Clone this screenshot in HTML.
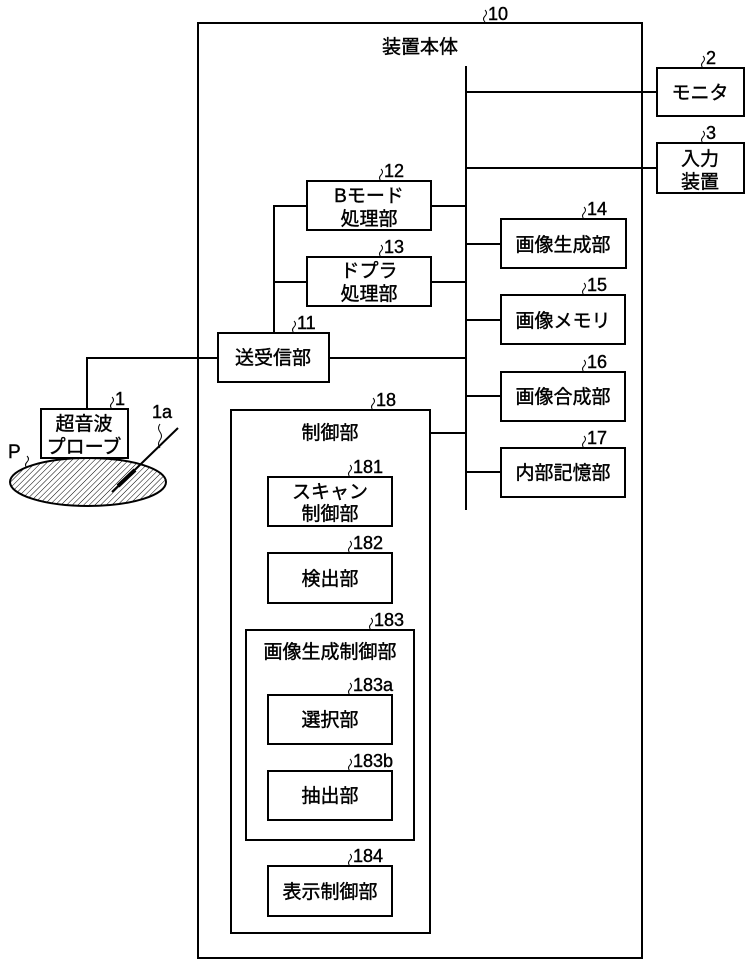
<!DOCTYPE html>
<html><head><meta charset="utf-8">
<style>
html,body{margin:0;padding:0;background:#fff;}
svg{display:block;}
text{font-family:"Liberation Sans","Noto Sans CJK JP",sans-serif;fill:#000;stroke:#000;stroke-width:0.4;}
.b{font-size:19px;text-anchor:middle;}
.n{font-size:18px;}
</style></head><body>
<svg width="753" height="970" viewBox="0 0 753 970" xmlns="http://www.w3.org/2000/svg">
<defs>
<pattern id="h" patternUnits="userSpaceOnUse" width="4" height="4" patternTransform="rotate(45)">
<line x1="0" y1="0" x2="0" y2="4" stroke="#000" stroke-width="1"/>
</pattern>
<clipPath id="ec"><ellipse cx="88" cy="482" rx="78" ry="24"/></clipPath>
</defs>
<g fill="none" stroke="#000" stroke-width="2">
<rect x="198" y="23" width="444" height="935"/>
<line x1="466" y1="66" x2="466" y2="510"/>
<line x1="466" y1="92" x2="657" y2="92"/>
<line x1="466" y1="168" x2="657" y2="168"/>
<rect x="657" y="68" width="87" height="48"/>
<rect x="657" y="143" width="87" height="50"/>
<rect x="307" y="181" width="124" height="49"/>
<rect x="307" y="257" width="124" height="49"/>
<line x1="431" y1="206" x2="466" y2="206"/>
<line x1="431" y1="282" x2="466" y2="282"/>
<line x1="274" y1="206" x2="307" y2="206"/>
<line x1="274" y1="282" x2="307" y2="282"/>
<line x1="274" y1="205" x2="274" y2="333"/>
<rect x="218" y="333" width="111" height="49"/>
<line x1="329" y1="358" x2="466" y2="358"/>
<line x1="87" y1="358" x2="218" y2="358"/>
<line x1="87" y1="357" x2="87" y2="409"/>
<rect x="501" y="219" width="125" height="49"/>
<rect x="501" y="295" width="124" height="49"/>
<rect x="501" y="372" width="124" height="49"/>
<rect x="501" y="448" width="124" height="49"/>
<line x1="466" y1="244" x2="501" y2="244"/>
<line x1="466" y1="320" x2="501" y2="320"/>
<line x1="466" y1="396" x2="501" y2="396"/>
<line x1="466" y1="472" x2="501" y2="472"/>
<rect x="231" y="410" width="199" height="523"/>
<line x1="430" y1="433" x2="466" y2="433"/>
<rect x="268" y="477" width="124" height="49"/>
<rect x="268" y="553" width="124" height="50"/>
<rect x="246" y="630" width="168" height="210"/>
<rect x="268" y="695" width="124" height="49"/>
<rect x="268" y="771" width="124" height="49"/>
<rect x="268" y="866" width="124" height="50"/>
<rect x="41" y="409" width="87" height="49"/>
</g>
<rect x="0" y="450" width="180" height="70" fill="url(#h)" clip-path="url(#ec)"/>
<ellipse cx="88" cy="482" rx="78" ry="24" fill="none" stroke="#000" stroke-width="2"/>
<line x1="178" y1="428" x2="112" y2="492" stroke="#000" stroke-width="2"/>
<line x1="135" y1="470" x2="118" y2="486" stroke="#000" stroke-width="4"/>
<g fill="none" stroke="#000" stroke-width="1">
<path d="M485 22 q-3 -3 0 -6 q3 -3 0 -6"/>
<path d="M703 68 q-3 -3 0 -6 q3 -3 0 -6"/>
<path d="M703 143 q-3 -3 0 -6 q3 -3 0 -6"/>
<path d="M381 181 q-3 -3 0 -6 q3 -3 0 -6"/>
<path d="M381 257 q-3 -3 0 -6 q3 -3 0 -6"/>
<path d="M584 219 q-3 -3 0 -6 q3 -3 0 -6"/>
<path d="M584 295 q-3 -3 0 -6 q3 -3 0 -6"/>
<path d="M584 372 q-3 -3 0 -6 q3 -3 0 -6"/>
<path d="M584 448 q-3 -3 0 -6 q3 -3 0 -6"/>
<path d="M294 333 q-3 -3 0 -6 q3 -3 0 -6"/>
<path d="M112 409 q-3 -3 0 -6 q3 -3 0 -6"/>
<path d="M373 410 q-3 -3 0 -6 q3 -3 0 -6"/>
<path d="M350 477 q-3 -3 0 -6 q3 -3 0 -6"/>
<path d="M350 553 q-3 -3 0 -6 q3 -3 0 -6"/>
<path d="M371 630 q-3 -3 0 -6 q3 -3 0 -6"/>
<path d="M350 695 q-3 -3 0 -6 q3 -3 0 -6"/>
<path d="M350 771 q-3 -3 0 -6 q3 -3 0 -6"/>
<path d="M350 866 q-3 -3 0 -6 q3 -3 0 -6"/>
<path d="M160 448 q-3 -4 0 -8 q3 -4 0 -8 q-3 -4 0 -8"/>
<path d="M27 468 q-3 -3 0 -6 q3 -3 0 -6"/>
</g>
<g class="n">
<text x="488" y="20">10</text>
<text x="706" y="64">2</text>
<text x="706" y="139">3</text>
<text x="384" y="177">12</text>
<text x="384" y="253">13</text>
<text x="587" y="215">14</text>
<text x="587" y="291">15</text>
<text x="587" y="368">16</text>
<text x="587" y="444">17</text>
<text x="297" y="329">11</text>
<text x="115" y="405">1</text>
<text x="376" y="406">18</text>
<text x="353" y="473">181</text>
<text x="353" y="549">182</text>
<text x="374" y="626">183</text>
<text x="353" y="691">183a</text>
<text x="353" y="767">183b</text>
<text x="353" y="862">184</text>
<text x="152" y="418">1a</text>
<text x="8" y="458" style="font-size:19px">P</text>
</g>
<g class="b">
<text x="420" y="53">装置本体</text>
<text x="700" y="99">モニタ</text>
<text x="700" y="165">入力</text>
<text x="700" y="188">装置</text>
<text x="369" y="202">Bモード</text>
<text x="369" y="225">処理部</text>
<text x="369" y="277">ドプラ</text>
<text x="369" y="300">処理部</text>
<text x="273" y="364">送受信部</text>
<text x="563" y="251">画像生成部</text>
<text x="563" y="327">画像メモリ</text>
<text x="563" y="403">画像合成部</text>
<text x="563" y="479">内部記憶部</text>
<text x="84" y="430">超音波</text>
<text x="84" y="453">プローブ</text>
<text x="330" y="439">制御部</text>
<text x="330" y="498">スキャン</text>
<text x="330" y="520">制御部</text>
<text x="330" y="585">検出部</text>
<text x="330" y="658">画像生成制御部</text>
<text x="330" y="726">選択部</text>
<text x="330" y="802">抽出部</text>
<text x="330" y="898">表示制御部</text>
</g>
</svg>
</body></html>
